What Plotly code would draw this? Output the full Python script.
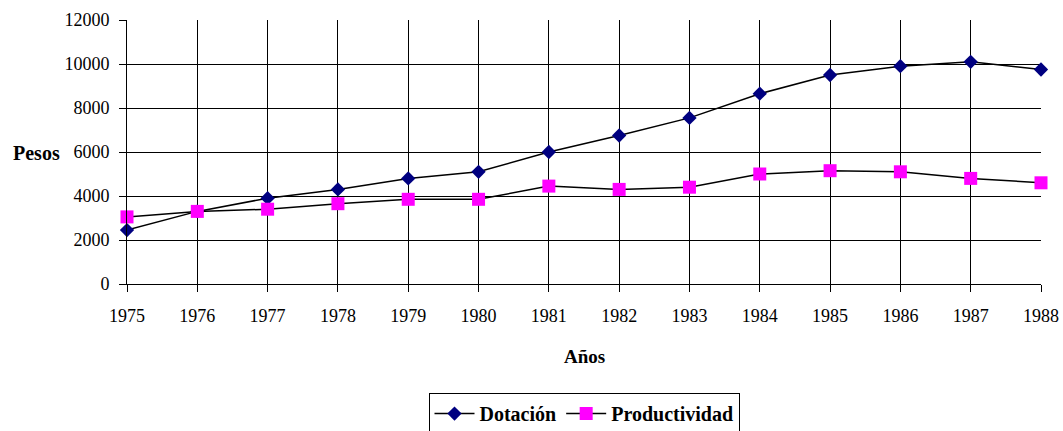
import plotly.graph_objects as go

years = [1975, 1976, 1977, 1978, 1979, 1980, 1981, 1982, 1983, 1984, 1985, 1986, 1987, 1988]
dotacion = [2450, 3300, 3900, 4300, 4800, 5100, 6000, 6750, 7550, 8650, 9500, 9900, 10100, 9750]
productividad = [3050, 3300, 3400, 3650, 3850, 3850, 4450, 4300, 4400, 5000, 5150, 5100, 4800, 4600]
y_ticks = [0, 2000, 4000, 6000, 8000, 10000, 12000]

FONT = "Liberation Serif, Times New Roman, serif"

fig = go.Figure()
fig.add_trace(go.Scatter(
    x=years, y=dotacion, name="Dotación", mode="lines+markers",
    line=dict(color="black", width=1.5),
    marker=dict(symbol="diamond", size=11, color="#000080"),
    cliponaxis=False,
))
fig.add_trace(go.Scatter(
    x=years, y=productividad, name="Productividad", mode="lines+markers",
    line=dict(color="black", width=1.5),
    marker=dict(symbol="square", size=13, color="#FF00FF"),
    cliponaxis=False,
))

fig.update_layout(
    width=1063, height=431,
    margin=dict(l=127, r=22, t=20, b=147, autoexpand=False),
    paper_bgcolor="white", plot_bgcolor="white",
    font=dict(family=FONT, size=18, color="black"),
    showlegend=True,
    legend=dict(
        orientation="h", x=0.5, xanchor="center", y=-0.413, yanchor="top",
        bordercolor="black", borderwidth=1,
        font=dict(family=FONT, size=20, color="black", weight="bold"),
        itemwidth=40, tracegroupgap=0,
    ),
    xaxis=dict(
        range=[1975, 1988], tickmode="array", tickvals=years,
        ticktext=[str(y) for y in years],
        showgrid=True, gridcolor="black", gridwidth=1,
        showline=True, linecolor="black", linewidth=1,
        ticks="outside", ticklen=7, tickcolor="black", tickwidth=1,
        ticklabelstandoff=8,
        zeroline=False, tickfont=dict(family=FONT, size=18),
    ),
    yaxis=dict(
        range=[0, 12000], tickmode="array", tickvals=y_ticks,
        ticktext=[str(v) for v in y_ticks],
        showgrid=True, gridcolor="black", gridwidth=1,
        showline=True, linecolor="black", linewidth=1,
        ticks="outside", ticklen=7, tickcolor="black", tickwidth=1,
        ticklabelstandoff=6,
        zeroline=False, tickfont=dict(family=FONT, size=18),
    ),
    annotations=[
        dict(text="Años", x=0.5, y=-0.2765, xref="paper", yref="paper",
             xanchor="center", yanchor="middle", showarrow=False,
             font=dict(family=FONT, size=19, color="black", weight="bold")),
        dict(text="Pesos", x=-0.0711, y=0.496, xref="paper", yref="paper",
             xanchor="right", yanchor="middle", showarrow=False,
             font=dict(family=FONT, size=20, color="black", weight="bold")),
    ],
)

fig.write_html(
    "out.html",
    config={"displayModeBar": False},
    post_script="document.body.style.margin='0px';document.body.style.overflow='hidden';",
)
